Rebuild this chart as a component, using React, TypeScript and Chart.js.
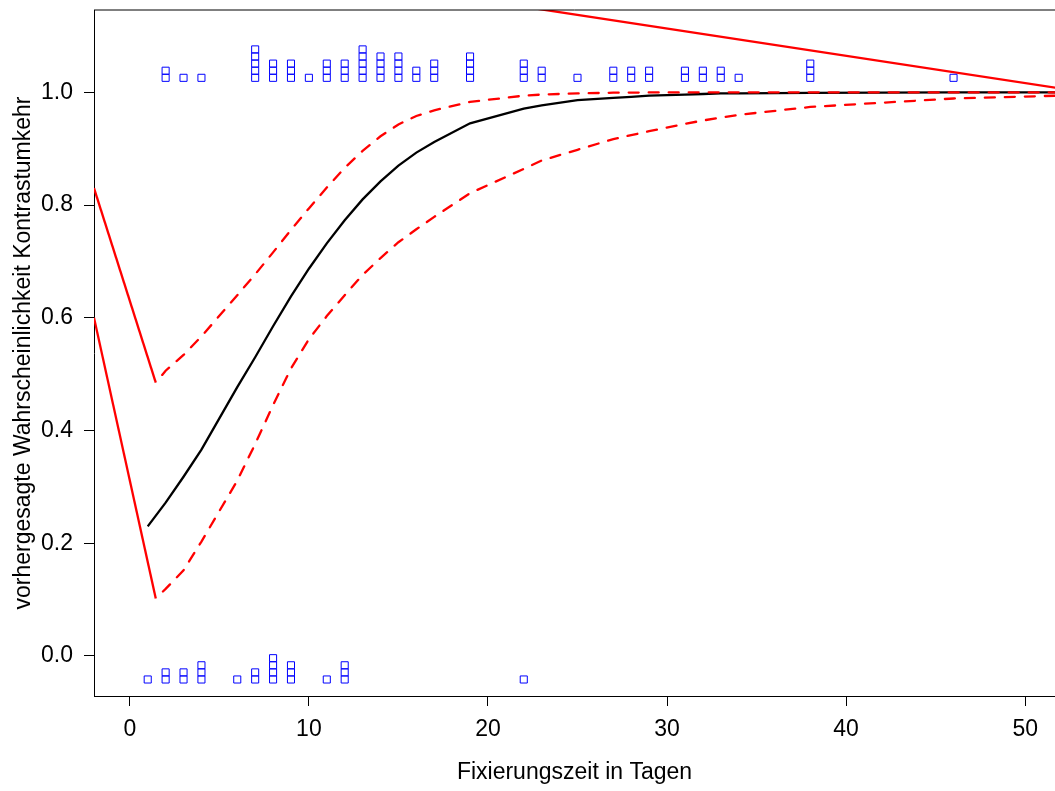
import React, { useEffect, useRef } from "react";
import { Chart, registerables } from "chart.js";

Chart.register(...registerables);

// Observed outcomes (1 = Kontrastumkehr, 0 = keine), counted per day
const ONE_DAYS = [2, 3, 4, 7, 8, 9, 10, 11, 12, 13, 14, 15, 16, 17, 19, 22, 23, 25, 27, 28, 29, 31, 32, 33, 34, 38, 46];
const ONE_COUNTS = [2, 1, 1, 5, 3, 3, 1, 3, 3, 5, 4, 4, 2, 3, 4, 3, 2, 1, 2, 2, 2, 2, 2, 2, 1, 3, 1];
const ZERO_DAYS = [1, 2, 3, 4, 6, 7, 8, 9, 11, 12, 22];
const ZERO_COUNTS = [1, 2, 2, 3, 1, 2, 4, 3, 1, 3, 1];

// Fitted probability
const FIT_X = [1, 2, 3, 4, 6, 7, 8, 9, 10, 11, 12, 13, 14, 15, 16, 17, 19, 22, 23, 25, 27, 28, 29, 31, 32, 33, 34, 38, 46, 52];
const FIT_P = [0.230, 0.272, 0.318, 0.366, 0.477, 0.530, 0.585, 0.638, 0.687, 0.732, 0.773, 0.810, 0.842, 0.870, 0.893, 0.912, 0.945, 0.971, 0.977, 0.986, 0.990, 0.992, 0.994, 0.996, 0.997, 0.998, 0.998, 0.999, 1.0, 1.0];

// Confidence band
const CI_X = [1.45, 2, 3, 4, 6, 7, 8, 9, 10, 11, 12, 13, 14, 15, 16, 17, 19, 22, 23, 25, 27, 28, 29, 31, 32, 33, 34, 38, 46, 52];
const CI_UPPER = [0.485, 0.506, 0.534, 0.567, 0.640, 0.677, 0.716, 0.756, 0.794, 0.831, 0.866, 0.896, 0.922, 0.943, 0.958, 0.968, 0.983, 0.994, 0.996, 0.998, 0.9993, 0.9995, 0.9997, 0.9999, 1.0, 1.0, 1.0, 1.0, 1.0, 1.0];
const CI_LOWER = [0.102, 0.119, 0.152, 0.203, 0.311, 0.376, 0.445, 0.510, 0.562, 0.603, 0.640, 0.676, 0.706, 0.734, 0.757, 0.779, 0.821, 0.864, 0.879, 0.898, 0.917, 0.924, 0.931, 0.944, 0.950, 0.955, 0.960, 0.974, 0.989, 0.9942];

// Solid red connector segments
const EDGE_X = [-2, 1.45];
const EDGE_UPPER = [0.83, 0.485];
const EDGE_LOWER = [0.60, 0.102];
const TOP_X = [20, 52];
const TOP_Y = [1.1615, 1.0066];

const X_TICKS = [0, 10, 20, 30, 40, 50];
const Y_TICKS = [0, 0.2, 0.4, 0.6, 0.8, 1.0];
const X_RANGE = [-2, 51.666];
const Y_RANGE = [-0.071, 1.146];

// stacking of the strip-chart squares (display only)
const STACK_STEP = 0.0126;
const ONE_OFFSET = 0.0257;
const ZERO_OFFSET = -0.0417;

function stackPoints(days: number[], counts: number[], outcome: number, offset: number) {
  const pts: { x: number; y: number }[] = [];
  days.forEach((d, i) => {
    for (let k = 0; k < counts[i]; k++) pts.push({ x: d, y: outcome + offset + k * STACK_STEP });
  });
  return pts;
}

const zip = (xs: number[], ys: number[]) => xs.map((x, i) => ({ x, y: ys[i] }));

export default function App() {
  const ref = useRef<HTMLCanvasElement>(null);

  useEffect(() => {
    const canvas = ref.current;
    if (!canvas) return;
    const font = { family: "'Liberation Sans', Arial, Helvetica, sans-serif", size: 23 };
    const LW = 2.3;

    const boxPlugin = {
      id: "boxTop",
      afterDraw(chart: any) {
        const { ctx, chartArea: a } = chart;
        ctx.save();
        ctx.strokeStyle = "#000";
        ctx.lineWidth = 1;
        ctx.beginPath();
        ctx.moveTo(a.left, a.top);
        ctx.lineTo(a.right, a.top);
        ctx.stroke();
        ctx.restore();
      },
    };

    const lineBase = { type: "line" as const, pointRadius: 0, fill: false, tension: 0 };
    const dashed = { borderDash: [10, 10], borderDashOffset: 10, borderCapStyle: "round" };

    const chart = new Chart(canvas, {
      type: "scatter",
      data: {
        datasets: [
          {
            type: "scatter",
            data: stackPoints(ONE_DAYS, ONE_COUNTS, 1, ONE_OFFSET),
            pointStyle: "rect",
            pointRadius: 5,
            pointBorderWidth: 1,
            borderColor: "#0000ff",
            backgroundColor: "rgba(0,0,0,0)",
            order: 0,
          },
          {
            type: "scatter",
            data: stackPoints(ZERO_DAYS, ZERO_COUNTS, 0, ZERO_OFFSET),
            pointStyle: "rect",
            pointRadius: 5,
            pointBorderWidth: 1,
            borderColor: "#0000ff",
            backgroundColor: "rgba(0,0,0,0)",
            order: 0,
          },
          { ...lineBase, ...dashed, data: zip(CI_X, CI_UPPER), borderColor: "#ff0000", borderWidth: LW, order: 1 },
          { ...lineBase, ...dashed, data: zip(CI_X, CI_LOWER), borderColor: "#ff0000", borderWidth: LW, order: 1 },
          { ...lineBase, data: zip(EDGE_X, EDGE_UPPER), borderColor: "#ff0000", borderWidth: LW, order: 2 },
          { ...lineBase, data: zip(EDGE_X, EDGE_LOWER), borderColor: "#ff0000", borderWidth: LW, order: 2 },
          { ...lineBase, data: zip(TOP_X, TOP_Y), borderColor: "#ff0000", borderWidth: LW, order: 2 },
          { ...lineBase, data: zip(FIT_X, FIT_P), borderColor: "#000000", borderWidth: LW, order: 3 },
        ] as any,
      },
      options: {
        animation: false,
        responsive: false,
        devicePixelRatio: 1,
        layout: { autoPadding: false, padding: { top: 10, left: 0, right: 0, bottom: 0 } },
        plugins: { legend: { display: false }, tooltip: { enabled: false } },
        scales: {
          x: {
            type: "linear",
            position: "bottom",
            min: X_RANGE[0],
            max: X_RANGE[1],
            afterBuildTicks: (s: any) => {
              s.ticks = X_TICKS.map((v) => ({ value: v }));
            },
            afterFit: (s: any) => {
              s.height = 95;
              s.paddingLeft = 0;
              s.paddingRight = 0;
            },
            grid: { display: true, drawOnChartArea: false, drawTicks: true, tickLength: 10, color: "#000", lineWidth: 1 },
            border: { display: true, color: "#000", width: 1 },
            ticks: { color: "#000", font, padding: 10, maxRotation: 0, autoSkip: false, callback: (v: any) => String(v) },
            title: { display: true, text: "Fixierungszeit in Tagen", color: "#000", font, padding: { top: 0, bottom: 5 } },
          },
          y: {
            type: "linear",
            position: "left",
            min: Y_RANGE[0],
            max: Y_RANGE[1],
            afterBuildTicks: (s: any) => {
              s.ticks = Y_TICKS.map((v) => ({ value: v }));
            },
            afterFit: (s: any) => {
              s.width = 94;
              s.paddingTop = 0;
              s.paddingBottom = 0;
            },
            grid: { display: true, drawOnChartArea: false, drawTicks: true, tickLength: 10, color: "#000", lineWidth: 1 },
            border: { display: true, color: "#000", width: 1 },
            ticks: { color: "#000", font, padding: 11, autoSkip: false, callback: (v: any) => Number(v).toFixed(1) },
            title: {
              display: true,
              text: "vorhergesagte Wahrscheinlichkeit Kontrastumkehr",
              color: "#000",
              font,
              padding: { top: 10, bottom: 0 },
            },
          },
        },
      } as any,
      plugins: [boxPlugin],
    });
    return () => chart.destroy();
  }, []);

  return (
    <div style={{ position: "fixed", left: 0, top: 0, width: 1055, height: 791, overflow: "hidden", background: "#fff" }}>
      <canvas ref={ref} width={1055} height={791} style={{ display: "block" }} />
    </div>
  );
}
